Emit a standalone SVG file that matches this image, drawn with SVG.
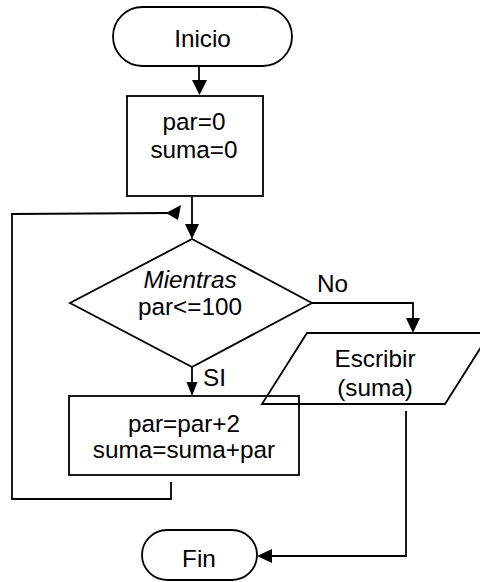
<svg xmlns="http://www.w3.org/2000/svg" width="480" height="582" viewBox="0 0 480 582">
  <style>
    .shape { fill: none; stroke: #000000; stroke-width: 1.8; }
    .wire { fill: none; stroke: #000000; stroke-width: 1.8; }
    .head { fill: #000000; stroke: none; }
    text { font-family: "Liberation Sans", Arial, sans-serif; font-size: 24.3px; fill: #000000; }
    .c { text-anchor: middle; }
  </style>
  <rect width="480" height="582" fill="#ffffff"/>

  <!-- connectors -->
  <g id="connectors">
    <!-- Inicio to init box -->
    <line class="wire" x1="199" y1="66" x2="199" y2="82"/>
    <polygon class="head" points="192,80 207,80 199.5,95"/>
    <!-- init box to decision -->
    <line class="wire" x1="192" y1="196" x2="192" y2="226"/>
    <polygon class="head" points="185,224 199,224 192,239"/>
    <!-- loop back from body -->
    <polyline class="wire" points="171,482 171,499 12,499 12,214 168,213"/>
    <polygon class="head" points="166,213 181,205 178,220"/>
    <!-- SI branch -->
    <line class="wire" x1="192" y1="367" x2="192" y2="384"/>
    <polygon class="head" points="186.5,382 197.5,382 192,396"/>
    <!-- No branch -->
    <polyline class="wire" points="312,303 413,303 413,320"/>
    <polygon class="head" points="406,318 420,318 413,333"/>
    <!-- output to Fin -->
    <polyline class="wire" points="406,411 406,556 270,556"/>
    <polygon class="head" points="257,556 272,549 272,563"/>
  </g>

  <g id="inicio">
    <rect class="shape" x="113" y="7" width="179" height="59" rx="29.5" ry="29.5"/>
    <text class="c" x="202.5" y="47">Inicio</text>
  </g>

  <g id="init">
    <rect class="shape" x="127" y="96" width="136" height="100"/>
    <text class="c" x="194" y="130">par=0</text>
    <text class="c" x="194" y="158">suma=0</text>
  </g>

  <g id="decision">
    <polygon class="shape" points="192,239 312,303 192,367 70,303"/>
    <text class="c" x="190" y="288" font-style="italic">Mientras</text>
    <text class="c" x="190" y="315">par&lt;=100</text>
  </g>

  <g id="labels">
    <text x="317" y="292">No</text>
    <text x="203" y="386">SI</text>
  </g>

  <g id="body">
    <rect class="shape" x="69" y="396" width="230" height="79"/>
    <text class="c" x="184" y="432">par=par+2</text>
    <text class="c" x="184" y="458">suma=suma+par</text>
  </g>

  <g id="output">
    <polygon class="shape" points="307,333 490,333 445,404 262,404"/>
    <text class="c" x="375" y="367">Escribir</text>
    <text class="c" x="375" y="396">(suma)</text>
  </g>

  <g id="fin">
    <rect class="shape" x="142" y="530" width="115" height="50" rx="25" ry="25"/>
    <text class="c" x="199" y="567">Fin</text>
  </g>
</svg>
